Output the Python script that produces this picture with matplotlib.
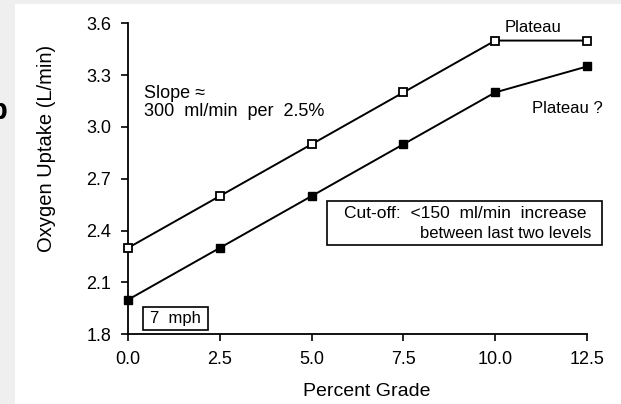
import matplotlib
matplotlib.use("Agg")
import matplotlib.pyplot as plt
from matplotlib.patches import Rectangle

plt.rcParams['font.family'] = ['Liberation Sans', 'DejaVu Sans']

# ---- data ----
grade = [0.0, 2.5, 5.0, 7.5, 10.0, 12.5]
vo2_open = [2.3, 2.6, 2.9, 3.2, 3.5, 3.5]
vo2_filled = [2.0, 2.3, 2.6, 2.9, 3.2, 3.35]
xticks = [0.0, 2.5, 5.0, 7.5, 10.0, 12.5]
yticks = [1.8, 2.1, 2.4, 2.7, 3.0, 3.3, 3.6]
xtick_labels = ["0.0", "2.5", "5.0", "7.5", "10.0", "12.5"]
ytick_labels = ["1.8", "2.1", "2.4", "2.7", "3.0", "3.3", "3.6"]

W, H = 621, 404
fig = plt.figure(figsize=(W / 100, H / 100), dpi=100)
fig.patch.set_facecolor('white')

# gray page border strips
fig.patches.append(Rectangle((0, 0), 15 / W, 1, transform=fig.transFigure,
                             facecolor='#efefef', edgecolor='none', zorder=0))
fig.patches.append(Rectangle((0, 1 - 4 / H), 1, 4 / H, transform=fig.transFigure,
                             facecolor='#efefef', edgecolor='none', zorder=0))
# panel letter at left edge (cut off in the source too)
fig.text(7 / W, 1 - 111 / H, "b", ha='right', va='center', fontsize=21,
         fontweight='bold', color='black')

ax = fig.add_axes([128 / W, 1 - 334.3 / H, 459 / W, 311 / H])
ax.set_xlim(0, 12.5)
ax.set_ylim(1.8, 3.6)
for s in ['top', 'right']:
    ax.spines[s].set_visible(False)
for s in ['left', 'bottom']:
    ax.spines[s].set_linewidth(1.3)

ax.plot(grade, vo2_open, color='black', lw=1.4, marker='s', markersize=5.5,
        markerfacecolor='white', markeredgecolor='black', markeredgewidth=1.3,
        clip_on=False, zorder=3)
ax.plot(grade, vo2_filled, color='black', lw=1.4, marker='s', markersize=5.5,
        markerfacecolor='black', markeredgecolor='black', markeredgewidth=1.0,
        clip_on=False, zorder=3)

ax.set_xticks(xticks)
ax.set_xticklabels(xtick_labels)
ax.set_yticks(yticks)
ax.set_yticklabels(ytick_labels)
ax.tick_params(direction='out', length=5, width=1.2, labelsize=13, pad=7,
               colors='black')


def ax_x(px):
    return (px - 128) / 459


def ax_y(py):
    return (334.3 - py) / 311


ax.set_xlabel("Percent Grade", fontsize=14)
ax.xaxis.set_label_coords(ax_x(366.5), ax_y(383))
ax.set_ylabel("Oxygen Uptake (L/min)", fontsize=14.5)
ax.yaxis.set_label_coords(ax_x(56), ax_y(148.5))

tkw = dict(transform=ax.transAxes, color='black', clip_on=False)
ax.text(ax_x(144), ax_y(98.5), "Slope \u2248", ha='left', va='baseline',
        fontsize=13, **tkw)
ax.text(ax_x(144), ax_y(116.5), "300  ml/min  per  2.5%", ha='left',
        va='baseline', fontsize=13, **tkw)
ax.text(ax_x(533), ax_y(27), "Plateau", ha='center', va='center',
        fontsize=12, **tkw)
ax.text(ax_x(603), ax_y(108), "Plateau ?", ha='right', va='center',
        fontsize=12, **tkw)

# cut-off box
ax.add_patch(Rectangle((ax_x(327), ax_y(245)), ax_x(602) - ax_x(327),
                       ax_y(201) - ax_y(245), transform=ax.transAxes,
                       facecolor='white', edgecolor='black', lw=1.2,
                       clip_on=False, zorder=4))
ax.text(ax_x(586), ax_y(213), "Cut-off:  <150  ml/min  increase",
        ha='right', va='center', zorder=5, fontsize=12.5, **tkw)
ax.text(ax_x(591), ax_y(233), "between last two levels",
        ha='right', va='center', zorder=5, fontsize=12, **tkw)

# 7 mph box
ax.add_patch(Rectangle((ax_x(143), ax_y(330)), ax_x(208) - ax_x(143),
                       ax_y(307) - ax_y(330), transform=ax.transAxes,
                       facecolor='white', edgecolor='black', lw=1.2,
                       clip_on=False, zorder=4))
ax.text(ax_x(175.5), ax_y(318.5), "7  mph", ha='center', va='center',
        zorder=5, fontsize=12, **tkw)

fig.savefig("out.png", dpi=100, facecolor=fig.get_facecolor())
